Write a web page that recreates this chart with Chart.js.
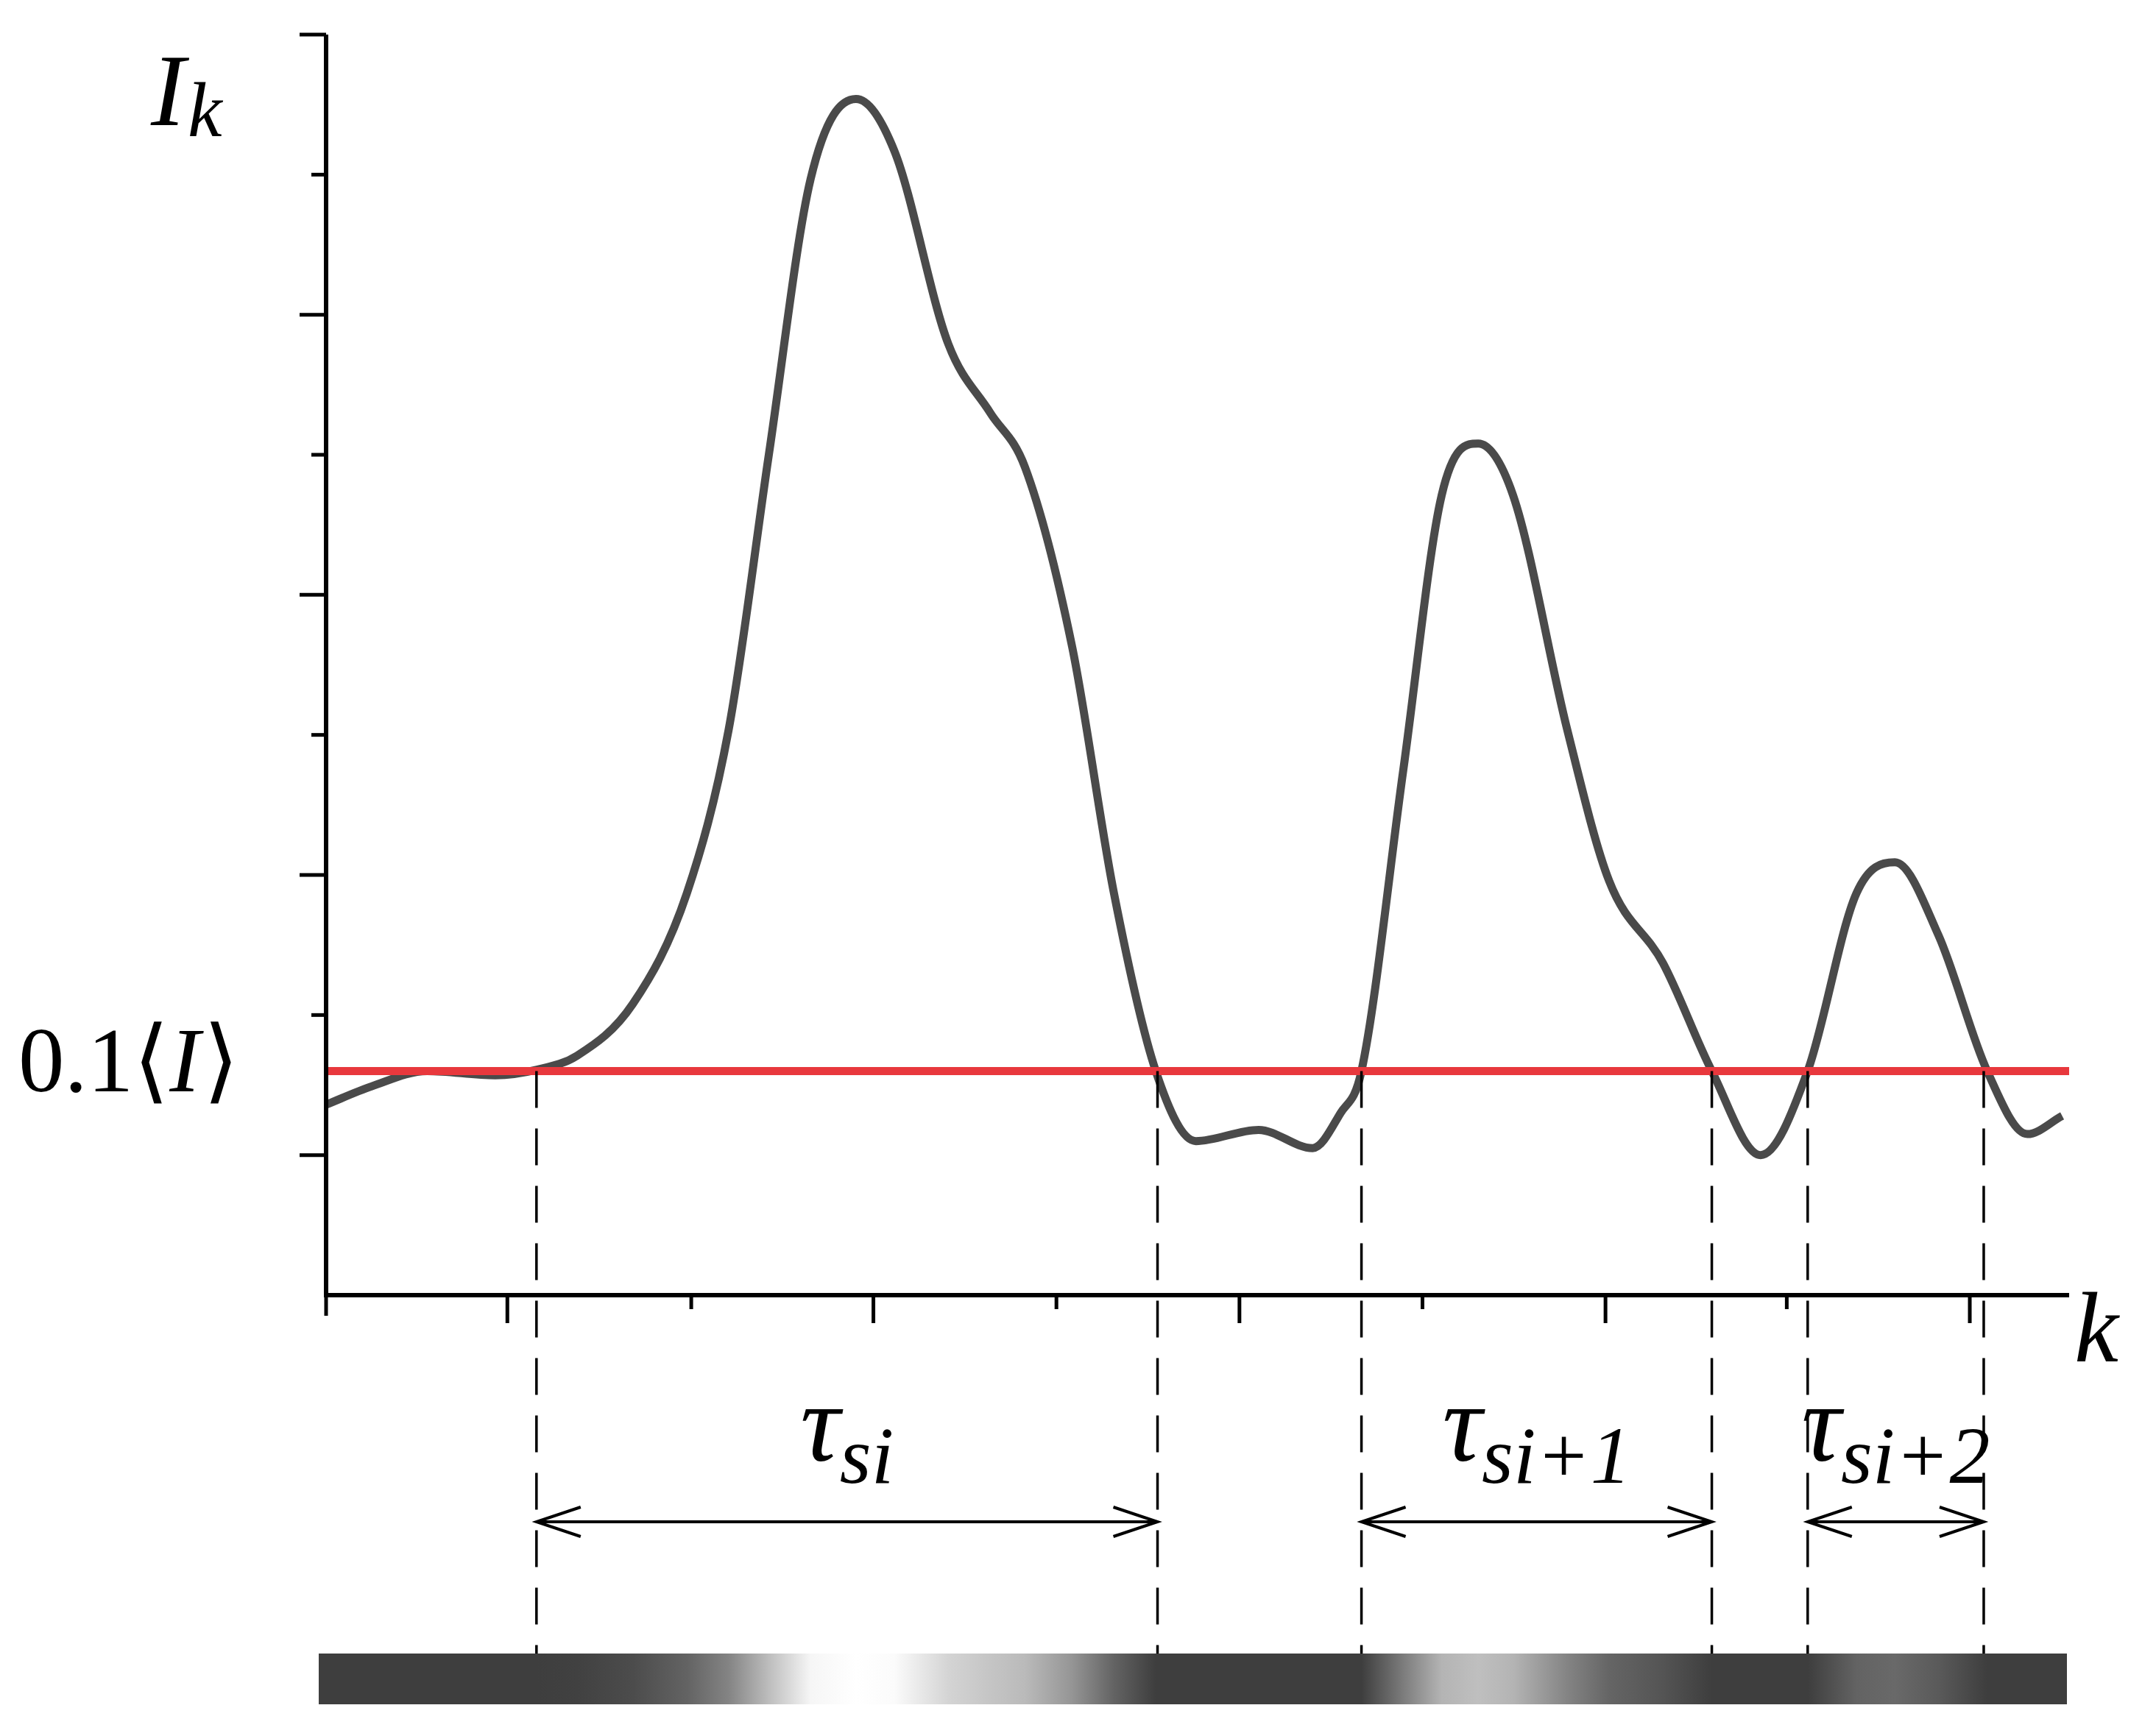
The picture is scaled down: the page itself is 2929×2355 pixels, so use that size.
<!DOCTYPE html>
<html><head><meta charset="utf-8">
<script src="https://cdn.jsdelivr.net/npm/chart.js@4"></script>
<style>html,body{margin:0;padding:0;background:#fff}</style>
</head><body>
<canvas id="c" width="2929" height="2355"></canvas>
<script>
const kValues = [0,2.6,5.8,9.7,12.1,14.4,17.6,20.7,23.1,25.4,27.8,30.4,32.6,35.7,38.1,40.1,42.8,45.2,47.6,49.9,53.5,56.6,58.2,59.4,61.8,64.0,66.1,68.1,71.2,73.6,76.7,79.5,82.3,85.0,87.8,90.0,92.5,95.3,97.6,99.6];
const intensity = [1.36,1.49,1.6,1.57,1.61,1.71,2.08,2.87,4.04,6.0,7.97,8.54,8.17,6.79,6.3,5.91,4.63,2.87,1.6,1.1,1.18,1.05,1.3,1.6,3.75,5.71,6.08,5.71,4.04,2.96,2.37,1.6,1.0,1.6,2.87,3.09,2.57,1.6,1.15,1.28];
const threshold = 1.6;
const crossings = [12.07,47.7,59.4,79.5,85.0,95.1];
const intervals = [[0,1,"si"],[2,3,"si+1"],[4,5,"si+2"]];
const xTickValues = [0,10.4,20.95,31.4,41.9,52.4,62.9,73.4,83.8,94.3];
const yTickValues = [0,1,2,3,4,5,6,7,8,9];

const curve = kValues.map((k,i)=>({x:k,y:intensity[i]}));
const thrLine = [{x:0,y:threshold},{x:100,y:threshold}];

const deco = {
  id:'deco',
  afterDraw(chart){
    const ctx=chart.ctx, xs=chart.scales.x, ys=chart.scales.y;
    const L=xs.left, R=xs.right, B=ys.bottom, T=ys.top;
    ctx.save();
    ctx.strokeStyle='#000'; ctx.lineWidth=6;
    ctx.beginPath(); ctx.moveTo(L,T); ctx.lineTo(L,B+3); ctx.moveTo(L-3,B); ctx.lineTo(R,B); ctx.stroke();
    ctx.lineWidth=5;
    yTickValues.forEach(v=>{
      const y=ys.getPixelForValue(v); if(v===0) return;
      const len = (v%2===1)?36:20;
      ctx.beginPath(); ctx.moveTo(L,y); ctx.lineTo(L-len,y); ctx.stroke();
    });
    xTickValues.forEach((v,i)=>{
      const x=xs.getPixelForValue(v);
      const len = i===0?28:(i%2===1?38:19);
      ctx.beginPath(); ctx.moveTo(x,B); ctx.lineTo(x,B+len); ctx.stroke();
    });
    const barTop=2247, barBot=2316;
    ctx.lineWidth=3.5; ctx.setLineDash([50,28]);
    const yThr=ys.getPixelForValue(threshold);
    crossings.forEach(k=>{
      const x=xs.getPixelForValue(k);
      ctx.beginPath(); ctx.moveTo(x,yThr); ctx.lineTo(x,barTop); ctx.stroke();
    });
    ctx.setLineDash([]);
    const ay=2068;
    ctx.lineWidth=4;
    intervals.forEach(([a,b,sub])=>{
      const x1=xs.getPixelForValue(crossings[a]), x2=xs.getPixelForValue(crossings[b]);
      ctx.beginPath(); ctx.moveTo(x1,ay); ctx.lineTo(x2,ay);
      ctx.moveTo(x1+60,ay-20); ctx.lineTo(x1,ay); ctx.lineTo(x1+60,ay+20);
      ctx.moveTo(x2-60,ay-20); ctx.lineTo(x2,ay); ctx.lineTo(x2-60,ay+20);
      ctx.stroke();
      const cx=(x1+x2)/2;
      ctx.fillStyle='#000'; ctx.textBaseline='alphabetic';
      ctx.font='italic 150px "Liberation Serif"';
      const tw=ctx.measureText('τ').width;
      ctx.font='italic 110px "Liberation Serif"';
      const sw=ctx.measureText(sub).width;
      const x0=cx-(tw+sw)/2;
      ctx.font='italic 150px "Liberation Serif"'; ctx.textAlign='left';
      ctx.fillText('τ',x0,1985);
      ctx.font='italic 110px "Liberation Serif"';
      ctx.fillText(sub,x0+tw,2015);
    });
    const bx1=433, bx2=2808;
    const g=ctx.createLinearGradient(bx1,0,bx2,0);
    const maxI=Math.max(...intensity);
    kValues.forEach((k,i)=>{
      const px=xs.getPixelForValue(k);
      const t=Math.min(1,Math.max(0,(px-bx1)/(bx2-bx1)));
      const v=Math.round(Math.max(62,Math.min(255,62+(intensity[i]-threshold)/(maxI-threshold)*200)));
      g.addColorStop(t,`rgb(${v},${v},${v})`);
    });
    ctx.fillStyle=g; ctx.fillRect(bx1,barTop,bx2-bx1,barBot-barTop);
    ctx.fillStyle='#000';
    ctx.font='italic 140px "Liberation Serif"'; ctx.textAlign='left';
    ctx.fillText('I',205,170);
    ctx.font='italic 105px "Liberation Serif"';
    ctx.fillText('k',255,185);
    ctx.font='italic 135px "Liberation Serif"';
    ctx.fillText('k',2818,1850);
    ctx.font='125px "Liberation Serif"'; ctx.textBaseline='middle';
    ctx.fillText('0.1⟨',25,1450);
    const w1=ctx.measureText('0.1⟨').width;
    ctx.font='italic 125px "Liberation Serif"';
    ctx.fillText('I',25+w1,1450);
    const w2=ctx.measureText('I').width;
    ctx.font='125px "Liberation Serif"';
    ctx.fillText('⟩',25+w1+w2+4,1450);
    ctx.restore();
  }
};

new Chart(document.getElementById('c'),{
  type:'line',
  data:{datasets:[
    {data:thrLine,borderColor:'#e8383d',borderWidth:11,pointRadius:0,tension:0,order:1},
    {data:curve,borderColor:'#4a4a4a',borderWidth:11,pointRadius:0,cubicInterpolationMode:'monotone',order:2}
  ]},
  options:{
    responsive:false,animation:false,devicePixelRatio:1,
    layout:{padding:{left:443,top:47,right:118,bottom:595}},
    plugins:{legend:{display:false},tooltip:{enabled:false}},
    scales:{
      x:{type:'linear',min:0,max:100,display:false},
      y:{type:'linear',min:0,max:9,display:false}
    }
  },
  plugins:[deco]
});
</script>
</body></html>
